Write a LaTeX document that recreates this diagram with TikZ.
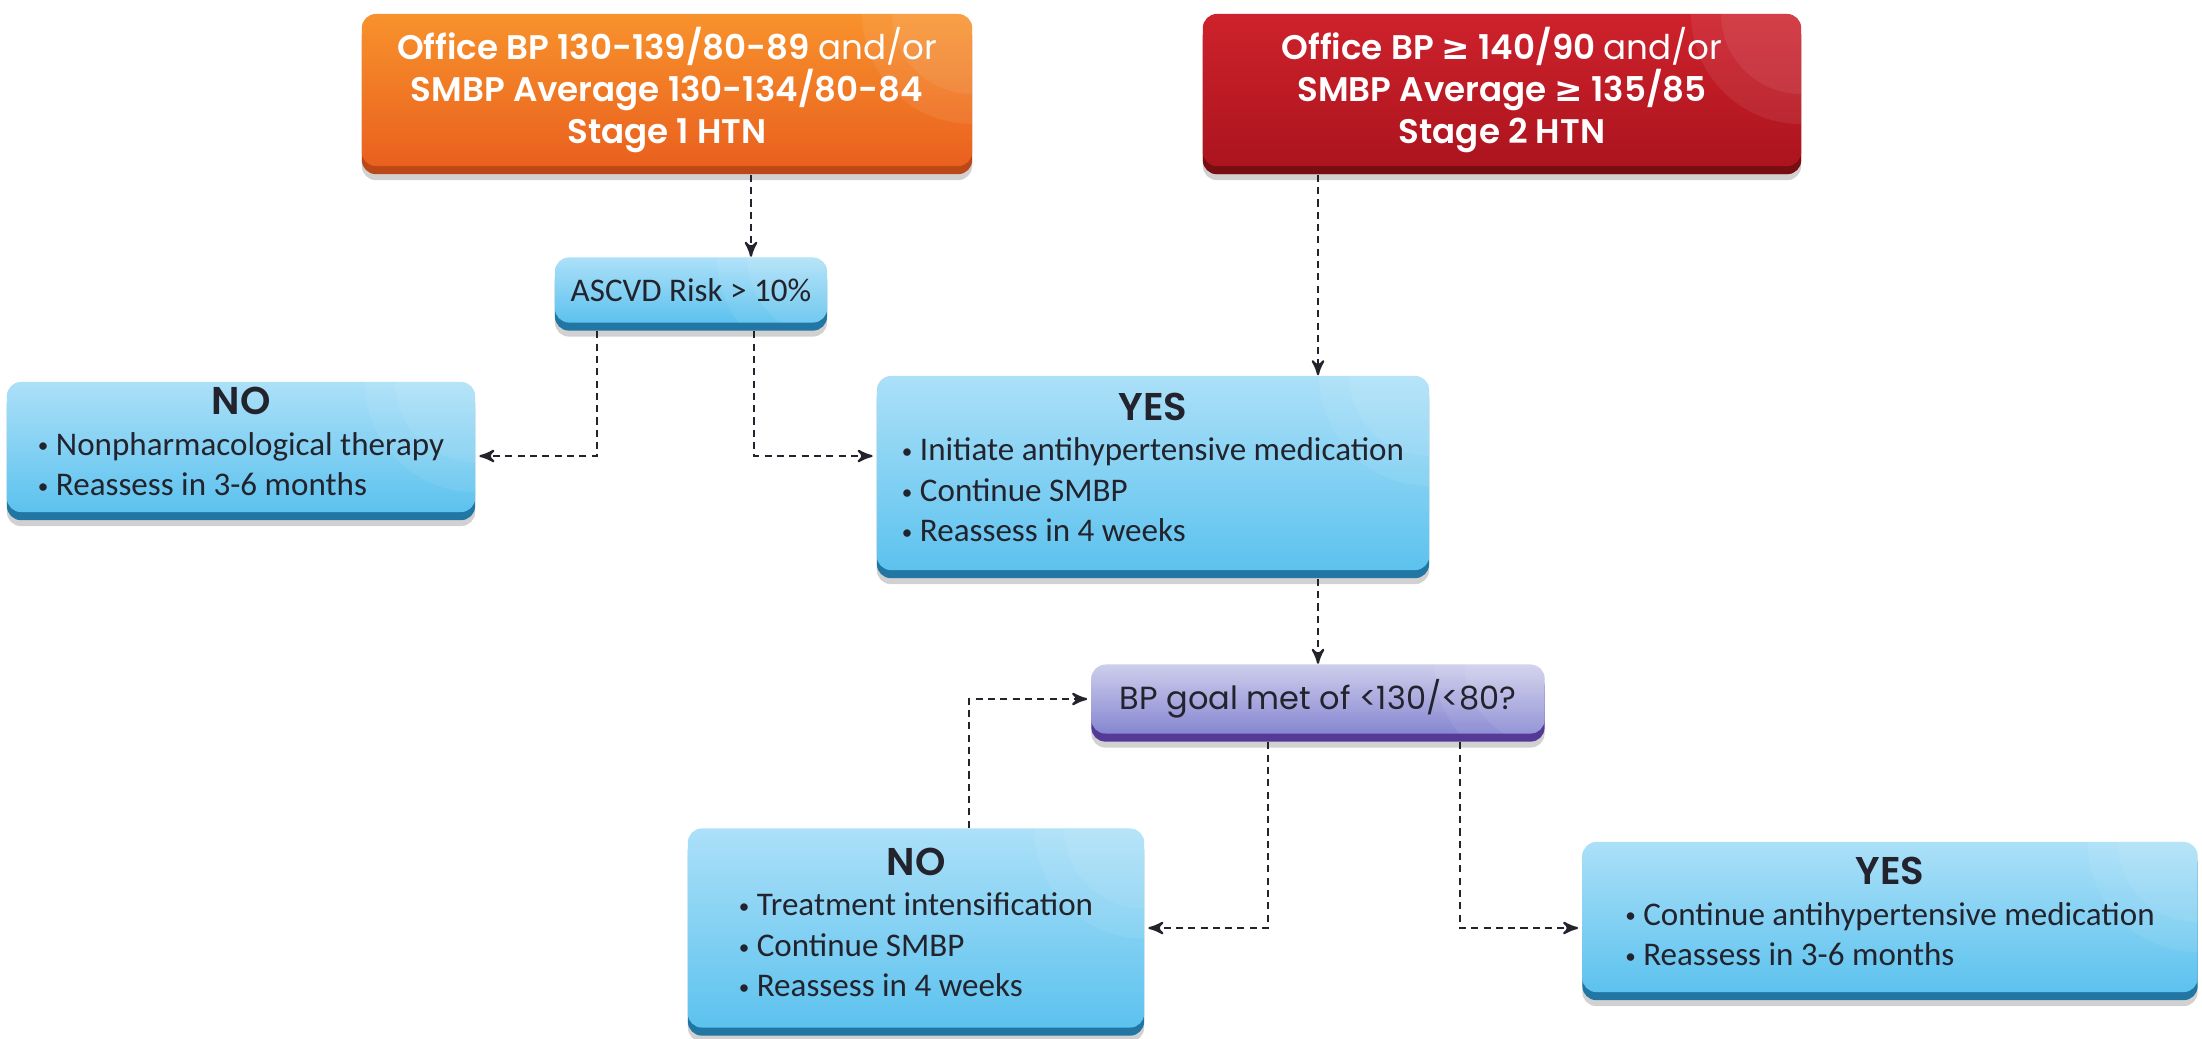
\documentclass[tikz,border=0pt]{standalone}
\usepackage{fontspec}
\setmainfont{Carlito}
\newfontfamily\headfont{Poppins}[BoldFont={* SemiBold}]
\newfontfamily\symfont{DejaVu Sans}
\usetikzlibrary{arrows, shapes, positioning, shadows}

\definecolor{orangetop}{RGB}{248,146,44}
\definecolor{orangebot}{RGB}{233,96,30}
\definecolor{orangeedge}{RGB}{188,72,24}
\definecolor{redtop}{RGB}{206,34,44}
\definecolor{redbot}{RGB}{172,20,30}
\definecolor{rededge}{RGB}{118,14,20}
\definecolor{bluetop}{RGB}{172,224,248}
\definecolor{bluebot}{RGB}{92,194,238}
\definecolor{blueedge}{RGB}{34,118,164}
\definecolor{purptop}{RGB}{206,206,236}
\definecolor{purpbot}{RGB}{134,134,210}
\definecolor{purpedge}{RGB}{84,58,150}
\definecolor{inktext}{RGB}{35,35,45}

\newcommand{\dotitem}{\raisebox{0.6pt}{\fontsize{6}{6}\selectfont •}\ }

\begin{document}
\begin{tikzpicture}[x=0.01cm, y=0.01cm, auto]
\tikzstyle{panel}=[rectangle, rounded corners=4pt, inner sep=0pt, align=center,
	drop shadow={shadow xshift=0pt, shadow yshift=-4pt, opacity=0.18, fill=black},
	path picture={\fill[white, opacity=0.07] (path picture bounding box.north east) circle (1.1cm);
		\fill[white, opacity=0.07] (path picture bounding box.north east) circle (0.8cm);}]
\tikzstyle{stage_one}=[panel, top color=orangetop, bottom color=orangebot,
	general shadow={fill=orangeedge, shadow yshift=-2.3pt}, text=white,
	font=\headfont\bfseries\fontsize{9.7}{12}\selectfont]
\tikzstyle{stage_two}=[stage_one, top color=redtop, bottom color=redbot,
	general shadow={fill=rededge, shadow yshift=-2.3pt}]
\tikzstyle{advice}=[panel, top color=bluetop, bottom color=bluebot,
	general shadow={fill=blueedge, shadow yshift=-2.3pt}, text=inktext,
	font=\fontsize{9.4}{11.5}\selectfont]
\tikzstyle{query}=[advice, font=\fontsize{9.4}{11.5}\selectfont]
\tikzstyle{goal_q}=[panel, top color=purptop, bottom color=purpbot,
	general shadow={fill=purpedge, shadow yshift=-2.3pt}, text=inktext,
	font=\headfont\fontsize{9.1}{11}\selectfont]
\tikzstyle{link}=[draw=inktext, dash pattern=on 2pt off 1.5pt, line width=0.6pt, ->, >=stealth']
%
\useasboundingbox [fill=white] (0,0) rectangle (2202,-1038);
%
\node [stage_one, minimum width=6.10cm, minimum height=1.52cm] (stage1) at (667,-90)
	{Office BP 130-139/80-89 {\mdseries and/or}\\SMBP Average 130-134/80-84\\Stage 1 HTN};
\node [stage_two, minimum width=5.98cm, minimum height=1.52cm] (stage2) at (1502,-90)
	{Office BP {\symfont ≥} 140/90 {\mdseries and/or}\\SMBP Average {\symfont ≥} 135/85\\Stage 2 HTN};
\node [query, minimum width=2.72cm, minimum height=0.65cm] (risk) at (691,-290)
	{ASCVD Risk > 10\%};
\node [advice, minimum width=4.68cm, minimum height=1.30cm] (lowrisk) at (241,-447)
	{\begin{tabular}{@{}l@{}}\multicolumn{1}{@{}c@{}}{\headfont\bfseries\fontsize{11}{11.5}\selectfont NO}\\
	\dotitem Nonpharmacological therapy\\ \dotitem Reassess in 3-6 months\end{tabular}};
\node [advice, minimum width=5.52cm, minimum height=1.94cm] (treat) at (1153,-473)
	{\begin{tabular}{@{}l@{}}\multicolumn{1}{@{}c@{}}{\headfont\bfseries\fontsize{11}{11.5}\selectfont YES}\\
	\dotitem Initiate antihypertensive medication\\ \dotitem Continue SMBP\\ \dotitem Reassess in 4 weeks\end{tabular}};
\node [goal_q, minimum width=4.53cm, minimum height=0.69cm] (goal) at (1318,-699)
	{BP goal met of <130/<80?};
\node [advice, minimum width=4.56cm, minimum height=1.99cm] (intens) at (916,-928)
	{\begin{tabular}{@{}l@{}}\multicolumn{1}{@{}c@{}}{\headfont\bfseries\fontsize{11}{11.5}\selectfont NO}\\
	\dotitem Treatment intensification\\ \dotitem Continue SMBP\\ \dotitem Reassess in 4 weeks\end{tabular}};
\node [advice, minimum width=6.15cm, minimum height=1.50cm] (keep) at (1890,-917)
	{\begin{tabular}{@{}l@{}}\multicolumn{1}{@{}c@{}}{\headfont\bfseries\fontsize{11}{11.5}\selectfont YES}\\
	\dotitem Continue antihypertensive medication\\ \dotitem Reassess in 3-6 months\end{tabular}};
%
\coordinate (drop1) at (751,0);
\coordinate (split1) at (597,0);
\coordinate (split2) at (754,0);
\coordinate (split3) at (1268,0);
\coordinate (split4) at (1460,0);
\coordinate (back) at (969,0);
\coordinate (lvl1) at (0,-456);
%
\draw [link, shorten <=2.3pt] (stage1.south -| drop1) -- (risk.north -| drop1);
\draw [link, shorten <=2.3pt] (stage2.south -| goal.north) -- (treat.north -| goal.north);
\draw [link, shorten <=2.3pt] (treat.south -| goal.north) -- (goal.north);
\draw [link, shorten <=2.3pt, shorten >=1pt] (risk.south -| split1) |- (lowrisk.east |- lvl1);
\draw [link, shorten <=2.3pt, shorten >=1pt] (risk.south -| split2) |- (treat.west |- lvl1);
\draw [link, shorten <=2.3pt, shorten >=1pt] (goal.south -| split3) |- (intens.east);
\draw [link, shorten <=2.3pt, shorten >=1pt] (goal.south -| split4) |- (keep.west |- intens.east);
\draw [link, shorten >=1pt] (intens.north -| back) |- (goal.west);
%
\end{tikzpicture}
\end{document}
